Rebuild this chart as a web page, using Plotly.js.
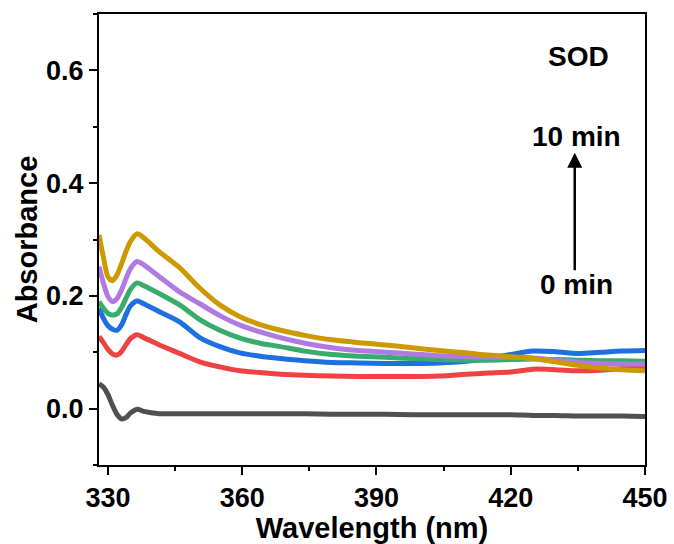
<!DOCTYPE html>
<html>
<head>
<meta charset="utf-8">
<script src="https://cdn.plot.ly/plotly-3.0.1.min.js"></script>
<style>html,body{margin:0;padding:0;background:#fff;}#chart{width:674px;height:544px;}</style>
</head>
<body>
<div id="chart"></div>
<script>
// Wavelength grid (nm)
const wavelength = [328, 329, 330, 331, 332, 333, 334, 335, 336.5, 338, 341.5, 346, 350.5, 355, 359.5, 364, 368.5, 374, 380, 386, 392, 398, 404, 410, 415, 420, 425, 430, 435, 440, 445, 450];

// Absorbance series, 0 min -> 10 min
const abs0 = [0.044, 0.038, 0.025, 0.006, -0.010, -0.018, -0.016, -0.008, -0.001, -0.005, -0.009, -0.009, -0.009, -0.009, -0.009, -0.009, -0.009, -0.009, -0.010, -0.010, -0.010, -0.011, -0.011, -0.011, -0.011, -0.011, -0.012, -0.012, -0.013, -0.013, -0.013, -0.014];
const abs1 = [0.128, 0.117, 0.105, 0.097, 0.095, 0.101, 0.113, 0.124, 0.131, 0.126, 0.113, 0.098, 0.083, 0.074, 0.067, 0.064, 0.061, 0.059, 0.058, 0.057, 0.057, 0.057, 0.058, 0.061, 0.063, 0.065, 0.070, 0.069, 0.067, 0.068, 0.071, 0.073];
const abs2 = [0.178, 0.160, 0.147, 0.141, 0.139, 0.148, 0.166, 0.182, 0.191, 0.186, 0.172, 0.154, 0.126, 0.110, 0.099, 0.093, 0.089, 0.085, 0.082, 0.081, 0.080, 0.080, 0.081, 0.084, 0.089, 0.096, 0.102, 0.101, 0.098, 0.100, 0.102, 0.103];
const abs3 = [0.190, 0.178, 0.169, 0.166, 0.168, 0.179, 0.195, 0.211, 0.223, 0.218, 0.204, 0.184, 0.158, 0.139, 0.125, 0.116, 0.110, 0.102, 0.096, 0.093, 0.091, 0.089, 0.087, 0.086, 0.086, 0.087, 0.088, 0.087, 0.086, 0.085, 0.085, 0.084];
const abs4 = [0.252, 0.222, 0.199, 0.190, 0.195, 0.210, 0.230, 0.248, 0.261, 0.255, 0.234, 0.207, 0.186, 0.165, 0.148, 0.136, 0.126, 0.116, 0.108, 0.103, 0.100, 0.097, 0.094, 0.092, 0.091, 0.091, 0.090, 0.086, 0.082, 0.080, 0.079, 0.079];
const abs5 = [0.308, 0.268, 0.234, 0.227, 0.237, 0.256, 0.278, 0.296, 0.310, 0.303, 0.278, 0.250, 0.214, 0.184, 0.163, 0.149, 0.139, 0.130, 0.122, 0.117, 0.113, 0.108, 0.103, 0.099, 0.095, 0.092, 0.089, 0.083, 0.077, 0.072, 0.069, 0.067];

const seriesList = [abs0, abs1, abs2, abs3, abs4, abs5];
const seriesColors = ['#505050', '#EF4242', '#1E6FE0', '#38AC6A', '#B07AE0', '#CC9900'];

const xTickVals = [330, 360, 390, 420, 450];
const yTickVals = [0.0, 0.2, 0.4, 0.6];
const yTickText = ['0.0', '0.2', '0.4', '0.6'];

const traces = seriesList.map((ys, i) => ({
  x: wavelength, y: ys, type: 'scatter', mode: 'lines',
  line: {color: seriesColors[i], width: 5, shape: 'spline', smoothing: 0.8},
  showlegend: false, hoverinfo: 'skip'
}));

const F = 'Liberation Sans, Arial, Helvetica, sans-serif';

const layout = {
  width: 674, height: 544,
  margin: {l: 99, r: 29, t: 14, b: 79, pad: 0},
  paper_bgcolor: '#ffffff', plot_bgcolor: '#ffffff',
  showlegend: false,
  xaxis: {
    range: [328, 450], showgrid: false, zeroline: false,
    showline: true, linecolor: '#000', linewidth: 2, mirror: true,
    ticks: 'outside', ticklen: 8, tickwidth: 2, tickcolor: '#000',
    tickmode: 'array', tickvals: xTickVals, ticktext: xTickVals.map(String),
    minor: {dtick: 15, tick0: 330, ticks: 'outside', ticklen: 4, tickwidth: 2, tickcolor: '#000'},
    tickfont: {family: F, size: 27, weight: 'bold', color: '#000'},
    title: {text: 'Wavelength (nm)', font: {family: F, size: 29, weight: 'bold', color: '#000'}, standoff: 4},
    automargin: false
  },
  yaxis: {
    range: [-0.1, 0.7], showgrid: false, zeroline: false,
    showline: true, linecolor: '#000', linewidth: 2, mirror: true,
    ticks: 'outside', ticklen: 8, tickwidth: 2, tickcolor: '#000',
    tickmode: 'array', tickvals: yTickVals, ticktext: yTickText,
    minor: {dtick: 0.1, tick0: 0, ticks: 'outside', ticklen: 4, tickwidth: 2, tickcolor: '#000'},
    tickfont: {family: F, size: 27, weight: 'bold', color: '#000'},
    title: {text: 'Absorbance', font: {family: F, size: 29, weight: 'bold', color: '#000'}, standoff: 0},
    automargin: false
  },
  annotations: [
    {x: 435.2, y: 0.6255, xref: 'x', yref: 'y', text: 'SOD', showarrow: false,
     font: {family: F, size: 28, weight: 'bold', color: '#000'}},
    {x: 434.6, y: 0.4836, xref: 'x', yref: 'y', text: '10 min', showarrow: false,
     font: {family: F, size: 28, weight: 'bold', color: '#000'}},
    {x: 434.6, y: 0.221, xref: 'x', yref: 'y', text: '0 min', showarrow: false,
     font: {family: F, size: 28, weight: 'bold', color: '#000'}},
    {x: 434.3, y: 0.454, ax: 434.3, ay: 0.243, xref: 'x', yref: 'y', axref: 'x', ayref: 'y',
     text: '', showarrow: true, arrowhead: 2, arrowsize: 1.2, arrowwidth: 2.5, arrowcolor: '#000', standoff: 0}
  ]
};

Plotly.newPlot('chart', traces, layout, {displayModeBar: false, staticPlot: true});
</script>
</body>
</html>
